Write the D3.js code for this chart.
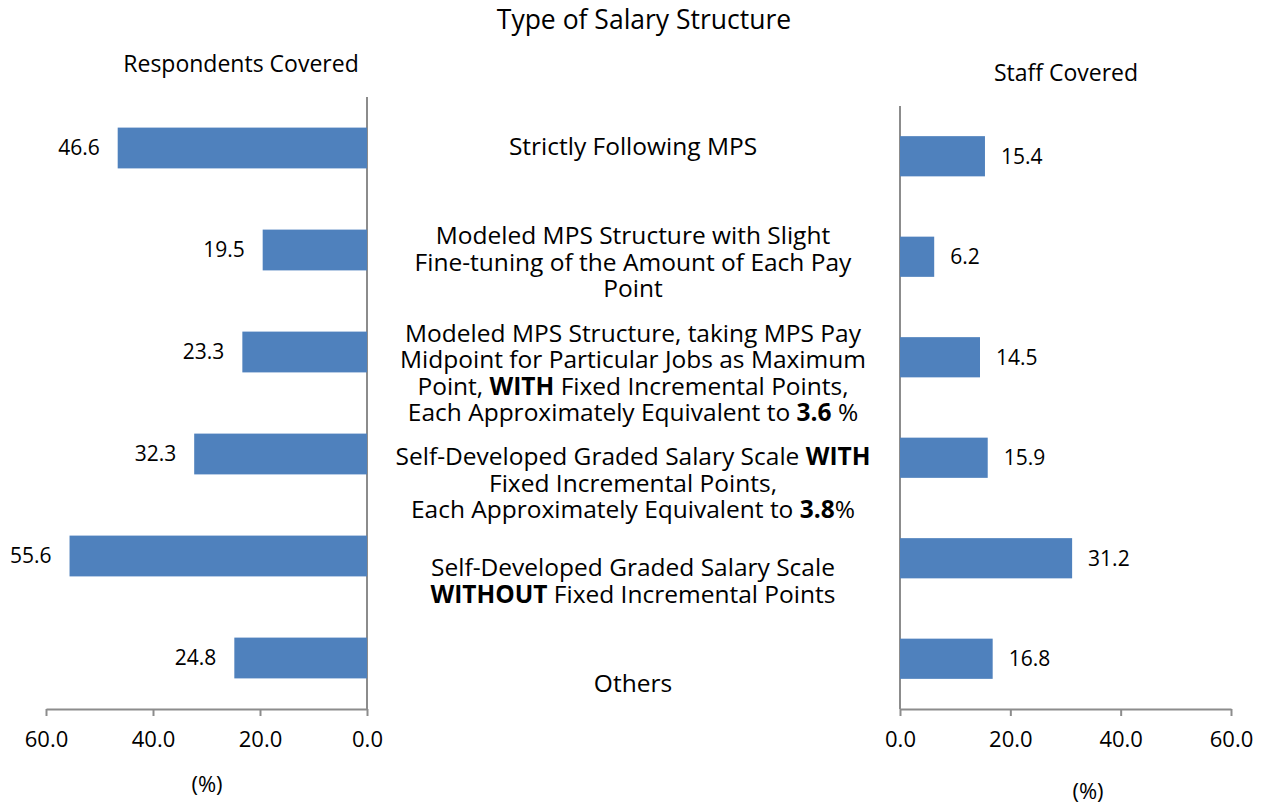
<!DOCTYPE html>
<html>
<head>
<meta charset="utf-8">
<script src="https://cdn.jsdelivr.net/npm/d3@7"></script>
<style>
  body { margin: 0; background: #fff; }
  text { font-family: "Open Sans", Lato, sans-serif; fill: #000; }
</style>
</head>
<body>
<svg width="1266" height="804"></svg>
<script>
// data
const categories = [
    "Strictly Following MPS",
    "Modeled MPS Structure with Slight|Fine-tuning of the Amount of Each Pay|Point",
    "Modeled MPS Structure, taking MPS Pay|Midpoint for Particular Jobs as Maximum|Point, *WITH* Fixed Incremental Points,|Each Approximately Equivalent to *3.6* %",
    "Self-Developed Graded Salary Scale *WITH*|Fixed Incremental Points,|Each Approximately Equivalent to *3.8*%",
    "Self-Developed Graded Salary Scale|*WITHOUT* Fixed Incremental Points",
    "Others"
]
const respondents = [46.6, 19.5, 23.3, 32.3, 55.6, 24.8]
const staff = [15.4, 6.2, 14.5, 15.9, 31.2, 16.8]
const ticks = [0, 20, 40, 60]

const svg = d3.select('svg')
const barColor = '#4f81bd',
    axisColor = '#8c8c8c'

// left panel (reversed)
const xL = d3.scaleLinear().domain([0, 60]).range([367, 46])
const yL = d3.scaleBand().domain(d3.range(6)).range([97, 709]).paddingInner(0.6).paddingOuter(0.3)
// right panel
const xR = d3.scaleLinear().domain([0, 60]).range([900, 1231])
const yR = d3.scaleBand().domain(d3.range(6)).range([106, 709]).paddingInner(0.6).paddingOuter(0.3)

function drawAxis(x, y, values, side) {
    const g = svg.append('g')
    const ax = d3.axisBottom(x).tickValues(ticks).tickFormat(d3.format('.1f')).tickSize(7).tickSizeOuter(0).tickPadding(15)
    g.append('g').attr('transform', `translate(0,${y.range()[1]})`).call(ax)
        .call(a => a.select('.domain').attr('stroke', axisColor).attr('stroke-width', 2))
        .call(a => a.selectAll('.tick line').attr('stroke', axisColor).attr('stroke-width', 2))
        .call(a => a.selectAll('.tick text').style('font-size', '22px').attr('fill', '#000'))
    // vertical axis at zero
    g.append('line')
        .attr('x1', x(0)).attr('x2', x(0))
        .attr('y1', y.range()[0]).attr('y2', y.range()[1])
        .attr('stroke', axisColor).attr('stroke-width', 2)

    g.selectAll('rect').data(values).enter().append('rect')
        .attr('x', d => Math.min(x(0), x(d)))
        .attr('width', d => Math.abs(x(d) - x(0)))
        .attr('y', (d, i) => y(i))
        .attr('height', y.bandwidth())
        .attr('fill', barColor)

    g.selectAll('text.val').data(values).enter().append('text')
        .attr('class', 'val')
        .attr('x', d => side === 'left' ? x(d) - 18 : x(d) + 16)
        .attr('y', (d, i) => y(i) + y.bandwidth() / 2)
        .attr('dy', '0.35em')
        .attr('text-anchor', side === 'left' ? 'end' : 'start')
        .style('font-size', '21px')
        .text(d => d3.format('.1f')(d))
}

drawAxis(xL, yL, respondents, 'left')
drawAxis(xR, yR, staff, 'right')

// titles
svg.append('text').attr('x', 644).attr('y', 29).attr('text-anchor', 'middle').style('font-size', '26.5px').text('Type of Salary Structure')
svg.append('text').attr('x', 241).attr('y', 72).attr('text-anchor', 'middle').style('font-size', '23px').text('Respondents Covered')
svg.append('text').attr('x', 1066).attr('y', 81).attr('text-anchor', 'middle').style('font-size', '23px').text('Staff Covered')
svg.append('text').attr('x', 207).attr('y', 792).attr('text-anchor', 'middle').style('font-size', '22px').text('(%)')
svg.append('text').attr('x', 1088).attr('y', 799).attr('text-anchor', 'middle').style('font-size', '22px').text('(%)')

// category labels in the middle; each line is laid out from its plain / bold pieces
const labelCenters = [146, 262, 373, 483, 581, 683]
const lineH = 26.5
const cx = 633
categories.forEach((c, i) => {
    const lines = c.split('|')
    const top = labelCenters[i] - (lines.length - 1) * lineH / 2
    lines.forEach((ln, j) => {
        const parts = ln.split('*').map((p, k) => ({ text: p, bold: k % 2 === 1 })).filter(p => p.text)
        const nodes = parts.map(p => svg.append('text')
            .attr('y', top + j * lineH)
            .attr('dy', '0.35em')
            .attr('font-weight', p.bold ? 'bold' : 'normal')
            .style('font-size', '24.5px')
            .style('white-space', 'pre')
            .text(p.text))
        const widths = nodes.map(n => n.node().getComputedTextLength())
        let xPos = cx - d3.sum(widths) / 2
        nodes.forEach((n, k) => {
            n.attr('x', xPos)
            xPos += widths[k]
        })
    })
})
</script>
</body>
</html>
